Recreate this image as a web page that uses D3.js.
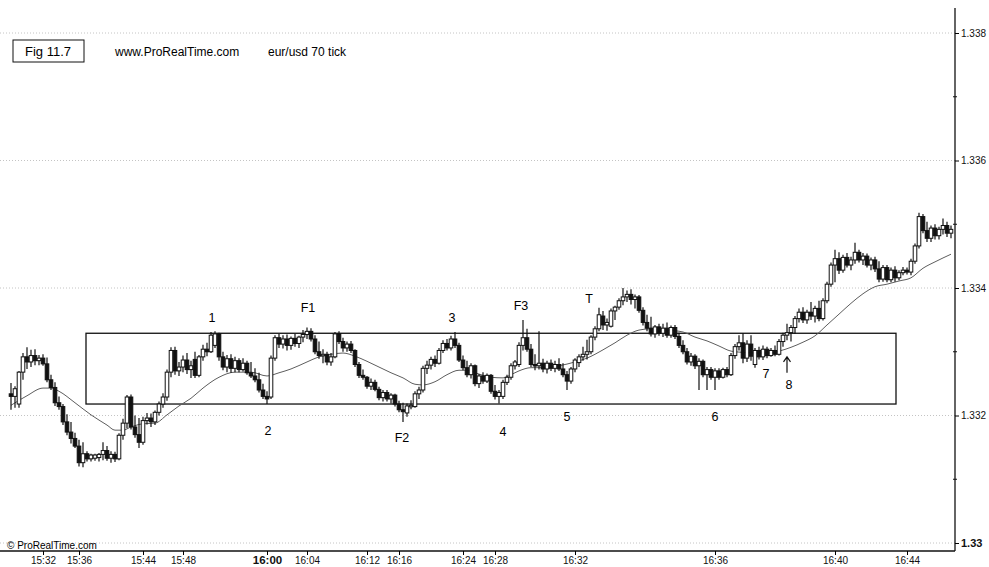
<!DOCTYPE html>
<html>
<head>
<meta charset="utf-8">
<script src="https://cdn.jsdelivr.net/npm/d3@7"></script>
<style>
  body { margin: 0; background: #fff; }
  svg { font-family: "Liberation Sans", Arial, sans-serif; }
</style>
</head>
<body>
<script>
var width = 989;
var height = 567;

// eur/usd 70 tick bars: [open, high, low, close]
var bars = [
[1.33234,1.33251,1.33209,1.33230],[1.33230,1.33246,1.33212,1.33242],[1.33218,1.33270,1.33212,1.33268],[1.33268,1.33298,1.33256,1.33292],
[1.33292,1.33307,1.33273,1.33284],[1.33284,1.33303,1.33276,1.33294],[1.33294,1.33304,1.33279,1.33286],[1.33286,1.33295,1.33279,1.33290],
[1.33290,1.33296,1.33278,1.33281],[1.33281,1.33291,1.33252,1.33256],[1.33256,1.33264,1.33240,1.33244],[1.33244,1.33252,1.33215,1.33220],
[1.33220,1.33230,1.33209,1.33214],[1.33214,1.33218,1.33185,1.33190],[1.33190,1.33202,1.33169,1.33174],[1.33174,1.33190,1.33156,1.33164],
[1.33164,1.33173,1.33149,1.33152],[1.33152,1.33162,1.33120,1.33126],[1.33126,1.33158,1.33119,1.33140],[1.33140,1.33144,1.33128,1.33132],
[1.33132,1.33140,1.33128,1.33138],[1.33133,1.33140,1.33129,1.33138],[1.33134,1.33141,1.33128,1.33139],[1.33139,1.33158,1.33130,1.33145],
[1.33145,1.33152,1.33129,1.33133],[1.33133,1.33144,1.33126,1.33139],[1.33139,1.33143,1.33127,1.33132],[1.33132,1.33172,1.33130,1.33169],
[1.33169,1.33195,1.33162,1.33188],[1.33188,1.33232,1.33180,1.33229],[1.33229,1.33233,1.33178,1.33182],[1.33182,1.33200,1.33165,1.33170],
[1.33170,1.33196,1.33149,1.33158],[1.33158,1.33198,1.33154,1.33192],[1.33192,1.33204,1.33186,1.33196],[1.33196,1.33203,1.33182,1.33190],
[1.33190,1.33208,1.33185,1.33205],[1.33205,1.33222,1.33200,1.33218],[1.33218,1.33235,1.33212,1.33229],[1.33229,1.33272,1.33223,1.33268],
[1.33268,1.33307,1.33260,1.33302],[1.33302,1.33308,1.33264,1.33270],[1.33270,1.33284,1.33262,1.33276],[1.33276,1.33294,1.33268,1.33287],
[1.33287,1.33298,1.33265,1.33272],[1.33272,1.33286,1.33259,1.33278],[1.33288,1.33300,1.33259,1.33263],[1.33263,1.33295,1.33260,1.33292],
[1.33292,1.33311,1.33286,1.33304],[1.33304,1.33314,1.33293,1.33300],[1.33300,1.33331,1.33298,1.33326],[1.33310,1.33332,1.33306,1.33328],
[1.33328,1.33330,1.33286,1.33292],[1.33292,1.33300,1.33271,1.33276],[1.33276,1.33295,1.33268,1.33289],[1.33289,1.33296,1.33267,1.33274],
[1.33274,1.33292,1.33268,1.33286],[1.33286,1.33290,1.33268,1.33272],[1.33272,1.33290,1.33269,1.33282],[1.33282,1.33286,1.33264,1.33267],
[1.33267,1.33284,1.33259,1.33262],[1.33262,1.33274,1.33252,1.33256],[1.33256,1.33267,1.33236,1.33240],[1.33240,1.33250,1.33226,1.33230],
[1.33230,1.33238,1.33218,1.33226],[1.33229,1.33294,1.33226,1.33290],[1.33290,1.33326,1.33286,1.33322],[1.33322,1.33328,1.33306,1.33312],
[1.33312,1.33326,1.33305,1.33320],[1.33320,1.33327,1.33302,1.33310],[1.33310,1.33324,1.33303,1.33321],[1.33321,1.33328,1.33308,1.33313],
[1.33313,1.33325,1.33306,1.33323],[1.33323,1.33334,1.33315,1.33327],[1.33327,1.33338,1.33320,1.33332],[1.33332,1.33337,1.33316,1.33320],
[1.33320,1.33326,1.33296,1.33300],[1.33300,1.33316,1.33289,1.33294],[1.33294,1.33304,1.33282,1.33296],[1.33296,1.33300,1.33279,1.33284],
[1.33284,1.33298,1.33278,1.33292],[1.33292,1.33331,1.33290,1.33328],[1.33328,1.33332,1.33312,1.33316],[1.33316,1.33322,1.33300,1.33306],
[1.33306,1.33316,1.33300,1.33312],[1.33312,1.33317,1.33298,1.33302],[1.33302,1.33304,1.33276,1.33280],[1.33280,1.33284,1.33259,1.33263],
[1.33263,1.33272,1.33256,1.33260],[1.33260,1.33262,1.33242,1.33246],[1.33246,1.33258,1.33240,1.33252],[1.33252,1.33256,1.33238,1.33241],
[1.33241,1.33245,1.33224,1.33228],[1.33228,1.33240,1.33222,1.33236],[1.33236,1.33240,1.33222,1.33226],[1.33226,1.33235,1.33219,1.33232],
[1.33232,1.33234,1.33214,1.33218],[1.33218,1.33223,1.33205,1.33209],[1.33209,1.33220,1.33190,1.33206],[1.33204,1.33219,1.33198,1.33215],
[1.33215,1.33224,1.33210,1.33216],[1.33214,1.33238,1.33212,1.33234],[1.33234,1.33245,1.33226,1.33240],[1.33240,1.33278,1.33236,1.33274],
[1.33274,1.33286,1.33265,1.33279],[1.33279,1.33292,1.33272,1.33288],[1.33288,1.33294,1.33276,1.33282],[1.33282,1.33306,1.33280,1.33302],
[1.33302,1.33318,1.33298,1.33313],[1.33313,1.33320,1.33302,1.33306],[1.33306,1.33325,1.33302,1.33320],[1.33320,1.33331,1.33306,1.33310],
[1.33310,1.33314,1.33284,1.33287],[1.33287,1.33294,1.33271,1.33275],[1.33275,1.33286,1.33260,1.33264],[1.33264,1.33282,1.33258,1.33278],
[1.33278,1.33280,1.33246,1.33250],[1.33250,1.33265,1.33243,1.33262],[1.33262,1.33268,1.33250,1.33254],[1.33254,1.33266,1.33251,1.33263],
[1.33263,1.33265,1.33234,1.33238],[1.33238,1.33248,1.33225,1.33230],[1.33230,1.33240,1.33219,1.33236],[1.33230,1.33256,1.33226,1.33252],
[1.33252,1.33264,1.33248,1.33260],[1.33260,1.33282,1.33256,1.33278],[1.33278,1.33287,1.33272,1.33284],[1.33280,1.33315,1.33276,1.33310],
[1.33310,1.33350,1.33302,1.33322],[1.33322,1.33336,1.33300,1.33304],[1.33304,1.33312,1.33276,1.33280],[1.33280,1.33296,1.33271,1.33278],
[1.33278,1.33332,1.33272,1.33282],[1.33282,1.33289,1.33268,1.33273],[1.33273,1.33286,1.33266,1.33282],[1.33282,1.33288,1.33270,1.33274],
[1.33274,1.33286,1.33268,1.33280],[1.33280,1.33290,1.33270,1.33273],[1.33273,1.33282,1.33260,1.33264],[1.33264,1.33270,1.33240,1.33254],
[1.33254,1.33276,1.33250,1.33273],[1.33273,1.33290,1.33268,1.33287],[1.33283,1.33296,1.33276,1.33292],[1.33292,1.33308,1.33286,1.33296],
[1.33296,1.33319,1.33288,1.33300],[1.33300,1.33326,1.33296,1.33323],[1.33323,1.33340,1.33318,1.33336],[1.33336,1.33369,1.33332,1.33358],
[1.33356,1.33364,1.33334,1.33342],[1.33342,1.33352,1.33333,1.33346],[1.33340,1.33368,1.33338,1.33364],[1.33364,1.33372,1.33350,1.33370],
[1.33370,1.33384,1.33366,1.33380],[1.33380,1.33400,1.33373,1.33386],[1.33386,1.33396,1.33378,1.33390],[1.33390,1.33398,1.33374,1.33382],
[1.33382,1.33390,1.33368,1.33386],[1.33386,1.33389,1.33361,1.33365],[1.33365,1.33370,1.33341,1.33346],[1.33346,1.33358,1.33332,1.33337],
[1.33337,1.33355,1.33324,1.33328],[1.33328,1.33342,1.33322,1.33339],[1.33339,1.33344,1.33325,1.33329],[1.33329,1.33344,1.33323,1.33337],
[1.33337,1.33346,1.33322,1.33326],[1.33326,1.33341,1.33322,1.33338],[1.33338,1.33342,1.33320,1.33324],[1.33324,1.33330,1.33306,1.33310],
[1.33310,1.33318,1.33296,1.33300],[1.33300,1.33306,1.33280,1.33284],[1.33284,1.33298,1.33278,1.33293],[1.33293,1.33296,1.33273,1.33278],
[1.33278,1.33290,1.33240,1.33285],[1.33285,1.33288,1.33260,1.33264],[1.33264,1.33276,1.33240,1.33272],[1.33272,1.33276,1.33256,1.33260],
[1.33260,1.33274,1.33240,1.33270],[1.33270,1.33274,1.33256,1.33260],[1.33260,1.33275,1.33258,1.33272],[1.33272,1.33276,1.33260,1.33264],
[1.33264,1.33298,1.33262,1.33294],[1.33294,1.33312,1.33289,1.33308],[1.33308,1.33326,1.33302,1.33314],[1.33314,1.33329,1.33282,1.33290],
[1.33290,1.33318,1.33284,1.33312],[1.33312,1.33326,1.33286,1.33293],[1.33280,1.33306,1.33275,1.33302],[1.33302,1.33308,1.33288,1.33292],
[1.33292,1.33310,1.33287,1.33304],[1.33304,1.33308,1.33290,1.33294],[1.33294,1.33306,1.33292,1.33302],[1.33302,1.33310,1.33293,1.33296],
[1.33296,1.33320,1.33294,1.33316],[1.33316,1.33330,1.33308,1.33326],[1.33326,1.33344,1.33318,1.33330],[1.33330,1.33342,1.33316,1.33338],
[1.33338,1.33356,1.33328,1.33352],[1.33352,1.33368,1.33346,1.33362],[1.33362,1.33370,1.33345,1.33350],[1.33350,1.33366,1.33344,1.33362],
[1.33362,1.33378,1.33350,1.33356],[1.33356,1.33372,1.33346,1.33368],[1.33368,1.33380,1.33348,1.33352],[1.33352,1.33384,1.33349,1.33380],
[1.33380,1.33410,1.33376,1.33406],[1.33406,1.33440,1.33402,1.33436],[1.33436,1.33460,1.33409,1.33446],[1.33446,1.33456,1.33422,1.33428],
[1.33428,1.33452,1.33424,1.33448],[1.33448,1.33455,1.33432,1.33436],[1.33436,1.33449,1.33428,1.33444],[1.33444,1.33471,1.33438,1.33456],
[1.33456,1.33460,1.33440,1.33444],[1.33444,1.33455,1.33436,1.33450],[1.33450,1.33454,1.33432,1.33436],[1.33436,1.33448,1.33428,1.33444],
[1.33444,1.33449,1.33425,1.33430],[1.33430,1.33442,1.33409,1.33414],[1.33414,1.33436,1.33410,1.33432],[1.33432,1.33436,1.33409,1.33413],
[1.33413,1.33432,1.33409,1.33428],[1.33428,1.33434,1.33410,1.33416],[1.33416,1.33428,1.33412,1.33424],[1.33424,1.33433,1.33420,1.33428],
[1.33428,1.33432,1.33421,1.33425],[1.33425,1.33446,1.33420,1.33442],[1.33442,1.33470,1.33438,1.33466],[1.33466,1.33518,1.33462,1.33512],
[1.33512,1.33516,1.33486,1.33490],[1.33490,1.33504,1.33472,1.33478],[1.33478,1.33498,1.33472,1.33494],[1.33494,1.33500,1.33476,1.33482],
[1.33482,1.33496,1.33476,1.33492],[1.33492,1.33509,1.33484,1.33498],[1.33498,1.33504,1.33480,1.33486],[1.33486,1.33498,1.33478,1.33492]
];

// moving average: [bar index, price]
var movingAvg = [
[0,1.33216],[4,1.33231],[8,1.33243],[10,1.33243],[12,1.33238],[16,1.33220],[20,1.33201],[24,1.33185],
[26,1.33177],[28,1.33177],[30,1.33182],[33,1.33187],[36,1.33188],[39,1.33201],[42,1.33215],[45,1.33227],
[48,1.33243],[52,1.33260],[56,1.33268],[60,1.33268],[64,1.33262],[67,1.33267],[70,1.33273],[74,1.33284],
[77,1.33292],[80,1.33296],[83,1.33298],[86,1.33293],[89,1.33285],[92,1.33276],[95,1.33267],[98,1.33259],
[101,1.33249],[103,1.33248],[106,1.33253],[109,1.33264],[112,1.33271],[114,1.33271],[117,1.33265],[120,1.33260],
[123,1.33259],[125,1.33264],[127,1.33270],[130,1.33275],[133,1.33275],[137,1.33278],[141,1.33284],[144,1.33290],
[148,1.33303],[151,1.33314],[154,1.33326],[157,1.33334],[160,1.33336],[164,1.33334],[168,1.33331],[171,1.33323],
[174,1.33317],[177,1.33309],[180,1.33301],[183,1.33299],[186,1.33298],[189,1.33298],[192,1.33301],[195,1.33307],
[198,1.33315],[201,1.33325],[204,1.33342],[207,1.33359],[210,1.33376],[213,1.33391],[216,1.33402],[219,1.33406],
[222,1.33411],[225,1.33416],[228,1.33431],[231,1.33441],[235,1.33453]
];

var timeTicks = [8, 17, 33, 43, 64, 74, 89, 97, 113, 121, 141, 176, 206, 224];
var timeLabels = ["15:32","15:36","15:44","15:48","16:00","16:04","16:12","16:16","16:24","16:28","16:32","16:36","16:40","16:44"];

var priceTicks = [1.330, 1.332, 1.334, 1.336, 1.338];
var priceLabels = ["1.33", "1.332", "1.334", "1.336", "1.338"];
var minorTicks = [1.331, 1.333, 1.335, 1.337];

// range box: bar index span and price span
var boxBars = [18.75, 221.25];
var boxPrices = [1.33218, 1.33329];

// wave labels: [text, bar index, price]
var waveLabels = [
["1", 50.25, 1.33353], ["F1", 74.25, 1.33370], ["3", 110.25, 1.33353], ["F3", 127.5, 1.33373],
["T", 144.5, 1.33383], ["2", 64.25, 1.33176], ["F2", 97.75, 1.33165], ["4", 123, 1.33174],
["5", 139, 1.33199], ["6", 176, 1.33199], ["7", 188.75, 1.33265], ["8", 194.5, 1.33248]
];
var arrowAt = [194, 1.33267, 1.33292];

var svg = d3.select("body").append("svg")
    .attr("width", width)
    .attr("height", height);

var x = d3.scaleLinear()
    .domain([0, bars.length - 1])
    .range([11, 951]);

var y = d3.scaleLinear()
    .domain([1.330, 1.338])
    .range([543, 33]);

// dotted grid
svg.selectAll(".grid")
    .data(priceTicks)
    .enter().append("line")
    .attr("x1", 0)
    .attr("x2", 955)
    .attr("y1", function(d) { return y(d); })
    .attr("y2", function(d) { return y(d); })
    .attr("stroke", "#c4c4c4")
    .attr("stroke-width", 1)
    .attr("stroke-dasharray", "1,2");

// range box
svg.append("rect")
    .attr("x", x(boxBars[0]))
    .attr("y", y(boxPrices[1]))
    .attr("width", x(boxBars[1]) - x(boxBars[0]))
    .attr("height", y(boxPrices[0]) - y(boxPrices[1]))
    .attr("fill", "none")
    .attr("stroke", "#111")
    .attr("stroke-width", 1.3);

// moving average
var line = d3.line()
    .x(function(d) { return x(d[0]); })
    .y(function(d) { return y(d[1]); })
    .curve(d3.curveMonotoneX);

svg.append("path")
    .datum(movingAvg)
    .attr("d", line)
    .attr("fill", "none")
    .attr("stroke", "#5e5e5e")
    .attr("stroke-width", 1);

// candles
var candle = svg.selectAll(".candle")
    .data(bars)
    .enter().append("g")
    .attr("class", "candle");

candle.append("line")
    .attr("x1", function(d, i) { return x(i); })
    .attr("x2", function(d, i) { return x(i); })
    .attr("y1", function(d) { return y(d[1]); })
    .attr("y2", function(d) { return y(d[2]); })
    .attr("stroke", "#111")
    .attr("stroke-width", 1.2);

candle.append("rect")
    .attr("x", function(d, i) { return x(i) - 1.8; })
    .attr("y", function(d) { return y(Math.max(d[0], d[3])); })
    .attr("width", 3.6)
    .attr("height", function(d) { return Math.max(1.5, Math.abs(y(d[0]) - y(d[3]))); })
    .attr("fill", function(d) { return d[3] >= d[0] ? "#fff" : "#111"; })
    .attr("stroke", "#111")
    .attr("stroke-width", 1);

// wave labels
svg.selectAll(".wave")
    .data(waveLabels)
    .enter().append("text")
    .attr("x", function(d) { return x(d[1]); })
    .attr("y", function(d) { return y(d[2]); })
    .attr("dy", "0.35em")
    .attr("text-anchor", "middle")
    .style("font-size", "12.5px")
    .text(function(d) { return d[0]; });

var ax = x(arrowAt[0]);
var aTop = y(arrowAt[2]);
svg.append("path")
    .attr("d", "M" + ax + "," + y(arrowAt[1]) + "V" + aTop +
        "M" + (ax - 3.5) + "," + (aTop + 5) + "L" + ax + "," + aTop + "L" + (ax + 3.5) + "," + (aTop + 5))
    .attr("fill", "none")
    .attr("stroke", "#111")
    .attr("stroke-width", 1.2);

// right price axis
svg.append("line")
    .attr("x1", 955).attr("x2", 955)
    .attr("y1", 8).attr("y2", 551)
    .attr("stroke", "#111")
    .attr("stroke-width", 1.3);

var yAxis = svg.append("g")
    .attr("transform", "translate(955,0)")
    .call(d3.axisRight(y)
        .tickValues(priceTicks)
        .tickSize(4)
        .tickPadding(2)
        .tickFormat(function(d, i) { return priceLabels[i]; }));
yAxis.select(".domain").remove();
yAxis.selectAll("text")
    .style("font-size", "10px")
    .style("font-family", "Liberation Sans, Arial, sans-serif")
    .attr("fill", "#111");
yAxis.selectAll("text").filter(function(d, i) { return i === 0; })
    .style("font-weight", "bold")
    .style("font-size", "11px");

svg.selectAll(".minor")
    .data(minorTicks)
    .enter().append("line")
    .attr("x1", 953).attr("x2", 957)
    .attr("y1", function(d) { return y(d); })
    .attr("y2", function(d) { return y(d); })
    .attr("stroke", "#111");

// bottom time axis
svg.append("line")
    .attr("x1", 0).attr("x2", 955)
    .attr("y1", 551).attr("y2", 551)
    .attr("stroke", "#111")
    .attr("stroke-width", 1.3);

var xAxis = svg.append("g")
    .attr("transform", "translate(0,551)")
    .call(d3.axisBottom(x)
        .tickValues(timeTicks)
        .tickSize(4)
        .tickPadding(2)
        .tickFormat(function(d, i) { return timeLabels[i]; }));
xAxis.select(".domain").remove();
xAxis.selectAll("text")
    .style("font-size", "10px")
    .style("font-family", "Liberation Sans, Arial, sans-serif")
    .attr("fill", "#111");
xAxis.selectAll("text").filter(function(d, i) { return timeLabels[i] === "16:00"; })
    .attr("dy", "0.62em")
    .style("font-weight", "bold")
    .style("font-size", "11.5px");

// captions
svg.append("rect")
    .attr("x", 13).attr("y", 40)
    .attr("width", 71).attr("height", 22)
    .attr("fill", "none")
    .attr("stroke", "#111")
    .attr("stroke-width", 1);

svg.append("text")
    .attr("x", 48).attr("y", 56)
    .attr("text-anchor", "middle")
    .style("font-size", "13px")
    .text("Fig 11.7");

svg.append("text")
    .attr("x", 115).attr("y", 56)
    .style("font-size", "12px")
    .text("www.ProRealTime.com");

svg.append("text")
    .attr("x", 268).attr("y", 56)
    .style("font-size", "12px")
    .text("eur/usd 70 tick");

svg.append("text")
    .attr("x", 7).attr("y", 549)
    .style("font-size", "10px")
    .text("\u00a9 ProRealTime.com");
</script>
</body>
</html>
